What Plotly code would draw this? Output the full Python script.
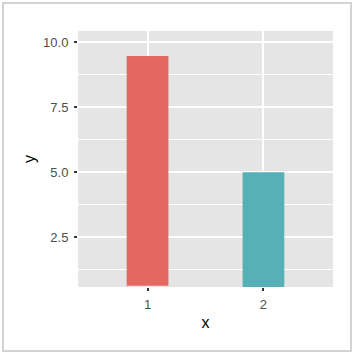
import plotly.graph_objects as go

categories = [1, 2]
bar_tops = [9.47, 5.0]
bar_bases = [0.64, 0.55]
bar_colors = ["#E46860", "#55B1B6"]
y_ticks = [2.5, 5.0, 7.5, 10.0]
y_tick_labels = ["2.5", "5.0", "7.5", "10.0"]
x_tick_labels = ["1", "2"]

L, R, T, B = 78, 21, 31, 67
W = H = 354
pw, ph = W - L - R, H - T - B

fig = go.Figure()
fig.add_trace(go.Bar(
    x=categories,
    y=[t - b for t, b in zip(bar_tops, bar_bases)],
    base=bar_bases,
    width=0.36,
    marker=dict(color=bar_colors, line=dict(width=0)),
    showlegend=False,
))

fig.update_layout(
    width=W, height=H,
    margin=dict(l=L, r=R, t=T, b=B),
    paper_bgcolor="white",
    plot_bgcolor="#E5E5E5",
    font=dict(family="Liberation Sans, Arial", color="#4D4D4D"),
    xaxis=dict(
        range=[0.4, 2.6], tickvals=categories, ticktext=x_tick_labels,
        showgrid=True, gridcolor="white", gridwidth=1.6,
        ticks="outside", ticklen=3, tickwidth=1.5, tickcolor="#333333",
        tickfont=dict(size=13, color="#4D4D4D"), ticklabelstandoff=2,
        zeroline=False, showline=False,
        title=dict(text="x", font=dict(size=16, color="black"), standoff=6),
    ),
    yaxis=dict(
        range=[0.588, 10.435], tickvals=y_ticks, ticktext=y_tick_labels,
        showgrid=True, gridcolor="white", gridwidth=1.6,
        minor=dict(tick0=1.25, dtick=2.5, showgrid=True, gridcolor="white", gridwidth=0.8, ticks=""),
        ticks="outside", ticklen=3, tickwidth=1.5, tickcolor="#333333",
        tickfont=dict(size=13, color="#4D4D4D"), ticklabelstandoff=3,
        zeroline=False, showline=False,
        title=dict(text="y", font=dict(size=16, color="black"), standoff=3),
    ),
    shapes=[dict(
        type="rect", xref="paper", yref="paper",
        x0=(3 - L) / pw, x1=(351 - L) / pw,
        y0=(H - B - 351) / ph, y1=(H - B - 3) / ph,
        line=dict(color="#D3D3D3", width=2), fillcolor="rgba(0,0,0,0)",
        layer="below",
    )],
)

fig.write_html("out.html")
